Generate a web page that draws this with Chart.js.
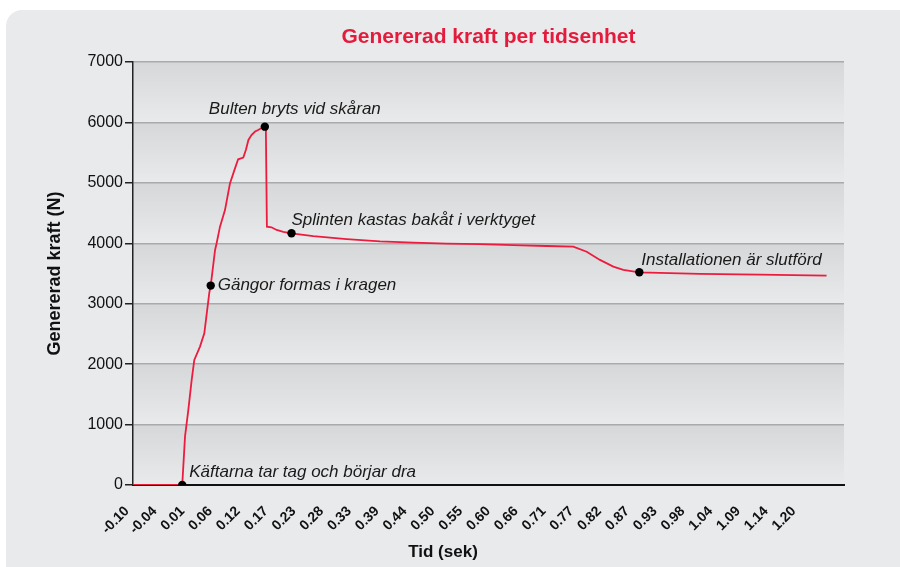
<!DOCTYPE html>
<html>
<head>
<meta charset="utf-8">
<script src="https://cdn.jsdelivr.net/npm/chart.js@4/dist/chart.umd.min.js"></script>
<style>
  html, body { margin: 0; padding: 0; background: #ffffff; }
  #panel { position: absolute; left: 6px; top: 10px; width: 900px; height: 570px;
           background: #e9eaec; border-radius: 16px 0 0 0; }
  #wrap { position: absolute; left: 0; top: 0; width: 900px; height: 567px; }
</style>
</head>
<body>
<div id="panel"></div>
<div id="wrap"><canvas id="c" width="900" height="567"></canvas></div>
<script>
// ---- Data ----
const tickLabels = ['-0.10','-0.04','0.01','0.06','0.12','0.17','0.23','0.28','0.33','0.39','0.44','0.50',
  '0.55','0.60','0.66','0.71','0.77','0.82','0.87','0.93','0.98','1.04','1.09','1.14','1.20'];
const timeValues = [-0.10, -0.05, -0.004, 0.0014, 0.0078, 0.0144, 0.0195, 0.0306, 0.039, 0.0487, 0.0515, 0.060,
  0.063, 0.0696, 0.0793, 0.089, 0.0988, 0.105, 0.115, 0.120, 0.125, 0.131, 0.138, 0.144, 0.153, 0.157,
  0.159, 0.161, 0.170, 0.180, 0.193, 0.209, 0.2515, 0.3166, 0.3815, 0.4464, 0.5115, 0.5764, 0.6413,
  0.7064, 0.7583, 0.7844, 0.8103, 0.8363, 0.8558, 0.887, 1.005, 1.122, 1.252];
const forceValues = [0, 0, 0, 800, 1240, 1740, 2070, 2290, 2510, 3180, 3300, 3890,
  4000, 4275, 4550, 4990, 5240, 5390, 5420, 5545, 5710, 5790, 5850, 5875, 5920, 5930,
  5900, 4275, 4265, 4220, 4190, 4165, 4120, 4070, 4030, 4010, 3995, 3985, 3970,
  3955, 3945, 3860, 3725, 3615, 3560, 3520, 3495, 3480, 3465];
const eventTimes = [-0.004, 0.0515, 0.157, 0.209, 0.887];
const eventForces = [0, 3300, 5930, 4165, 3520];
const eventLabels = ['Käftarna tar tag och börjar dra', 'Gängor formas i kragen', 'Bulten bryts vid skåran',
  'Splinten kastas bakåt i verktyget', 'Installationen är slutförd'];
const yTicks = [0, 1000, 2000, 3000, 4000, 5000, 6000, 7000];

const xMin = -0.10, xLastTick = 1.20, xMax = 1.286;
const xStep = (xLastTick - xMin) / (tickLabels.length - 1);

// label placement (style only)
const labelOffsets = [[7, -13, 'left'], [7, 0, 'left'], [30, -17, 'center'], [0, -13, 'left'], [2, -12, 'left']];
const FONT = '"Liberation Sans", Arial, sans-serif';

const bandsPlugin = {
  id: 'bands',
  beforeDraw(chart) {
    const { ctx, chartArea: a, scales: { y } } = chart;
    ctx.save();
    for (let i = 0; i < yTicks.length - 1; i++) {
      const yb = y.getPixelForValue(yTicks[i]);
      const yt = y.getPixelForValue(yTicks[i + 1]);
      const g = ctx.createLinearGradient(0, yt, 0, yb);
      g.addColorStop(0, '#d6d7d9');
      g.addColorStop(1, '#e9eaeb');
      ctx.fillStyle = g;
      ctx.fillRect(a.left, yt, a.right - a.left, yb - yt);
    }
    ctx.restore();
  },
  afterDraw(chart) {
    const { ctx } = chart;
    ctx.save();
    ctx.fillStyle = '#111';
    ctx.font = 'bold 17px ' + FONT;
    ctx.textAlign = 'center';
    ctx.textBaseline = 'middle';
    ctx.fillText('Tid (sek)', 443, 552);
    const meta = chart.getDatasetMeta(1);
    ctx.font = 'italic 17px ' + FONT;
    ctx.fillStyle = '#1a1a1a';
    meta.data.forEach((pt, i) => {
      const [dx, dy, al] = labelOffsets[i];
      ctx.textAlign = al;
      ctx.fillText(eventLabels[i], pt.x + dx, pt.y + dy);
    });
    ctx.restore();
  }
};

new Chart(document.getElementById('c'), {
  type: 'scatter',
  data: {
    datasets: [
      {
        data: timeValues.map((t, i) => ({ x: t, y: forceValues[i] })),
        showLine: true,
        borderColor: '#ec1c3f',
        borderWidth: 1.8,
        pointRadius: 0,
        tension: 0,
        order: 2
      },
      {
        data: eventTimes.map((t, i) => ({ x: t, y: eventForces[i] })),
        showLine: false,
        pointRadius: 4.2,
        pointBackgroundColor: '#000',
        pointBorderWidth: 0,
        order: 1
      }
    ]
  },
  options: {
    responsive: false,
    animation: false,
    layout: { padding: { left: 40, right: 56, top: 0, bottom: 0 } },
    plugins: {
      legend: { display: false },
      tooltip: { enabled: false },
      title: {
        display: true,
        text: 'Genererad kraft per tidsenhet',
        color: '#e31b3c',
        fullSize: false,
        font: { family: FONT, size: 21, weight: 'bold', lineHeight: 1.2 },
        padding: { top: 25, bottom: 11.8 }
      }
    },
    scales: {
      x: {
        type: 'linear',
        min: xMin,
        max: xMax,
        afterBuildTicks: (s) => { s.ticks = tickLabels.map((_, i) => ({ value: xMin + i * xStep })); },
        afterFit: (s) => { s.height = 82; },
        grid: { display: false, drawTicks: false },
        border: { color: '#111', width: 2 },
        ticks: {
          callback: (v, i) => tickLabels[i],
          minRotation: 45, maxRotation: 45,
          autoSkip: false,
          padding: 18,
          labelOffset: -6,
          color: '#111',
          font: { family: FONT, size: 14, weight: 'bold' }
        }
      },
      y: {
        min: 0,
        max: 7000,
        afterBuildTicks: (s) => { s.ticks = yTicks.map(v => ({ value: v })); },
        afterFit: (s) => { s.width = 93; },
        grid: { color: '#a9aaac', lineWidth: 1.5, tickColor: '#222', tickLength: 8, drawTicks: true },
        border: { color: '#222', width: 1.5 },
        ticks: {
          callback: (v) => String(v),
          padding: 2,
          color: '#111',
          font: { family: FONT, size: 16 }
        },
        title: {
          display: true,
          text: 'Genererad kraft (N)',
          color: '#111',
          font: { family: FONT, size: 18, weight: 'bold', lineHeight: 1.2 },
          padding: { top: 4, bottom: 0 }
        }
      }
    }
  },
  plugins: [bandsPlugin]
});
</script>
</body>
</html>
